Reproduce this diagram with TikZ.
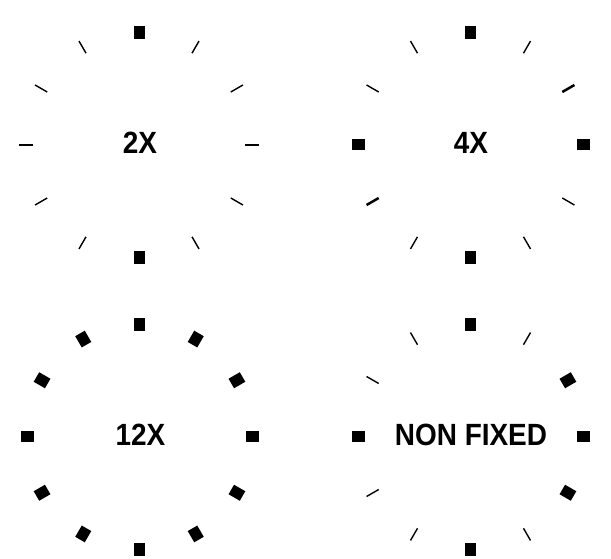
\documentclass[tikz,border=0pt]{standalone}
\usepackage{fontspec}
\setmainfont{Liberation Sans}
\tikzset{
  thintick/.style={line width=1.4pt, line cap=butt},
  medtick/.style={line width=2.5pt, line cap=butt},
  squaretick/.style={fill=black},
  dialtext/.style={font=\bfseries\fontsize{30.7pt}{32pt}\selectfont, anchor=base, inner sep=0pt}
}
\newcommand{\sqticks}[1]{\foreach \h in {#1} {\fill[squaretick, rotate=90-30*\h] (106,-5.5) rectangle (119,5.5);}}
\newcommand{\thticks}[1]{\foreach \h in {#1} {\draw[thintick, rotate=90-30*\h] (106,0) -- (120,0);}}
\newcommand{\mdticks}[1]{\foreach \h in {#1} {\draw[medtick, rotate=90-30*\h] (106,0) -- (120,0);}}
\begin{document}
\begin{tikzpicture}[x=1pt,y=1pt]
  \useasboundingbox (0,0) rectangle (611,558);
  % 2X dial
  \begin{scope}[shift={(139,413)}]
    \sqticks{0,6}
    \thticks{1,2,3,4,5,7,8,9,10,11}
  \end{scope}
  \node[dialtext] (t2x) at (140,404) {\scalebox{0.91}[1]{2X}};
  % 4X dial
  \begin{scope}[shift={(470.5,413)}]
    \sqticks{0,3,6,9}
    \mdticks{2,8}
    \thticks{1,4,5,7,10,11}
  \end{scope}
  \node[dialtext] (t4x) at (471,404) {\scalebox{0.91}[1]{4X}};
  % 12X dial
  \begin{scope}[shift={(139.5,121.5)}]
    \sqticks{0,1,2,3,4,5,6,7,8,9,10,11}
  \end{scope}
  \node[dialtext] (t12x) at (140.5,113) {\scalebox{0.91}[1]{12X}};
  % NON FIXED dial
  \begin{scope}[shift={(470.5,121.5)}]
    \sqticks{0,2,3,4,6,9}
    \thticks{1,5,7,8,10,11}
  \end{scope}
  \node[dialtext] (tnf) at (471,113) {\scalebox{0.91}[1]{NON FIXED}};
\end{tikzpicture}
\end{document}
